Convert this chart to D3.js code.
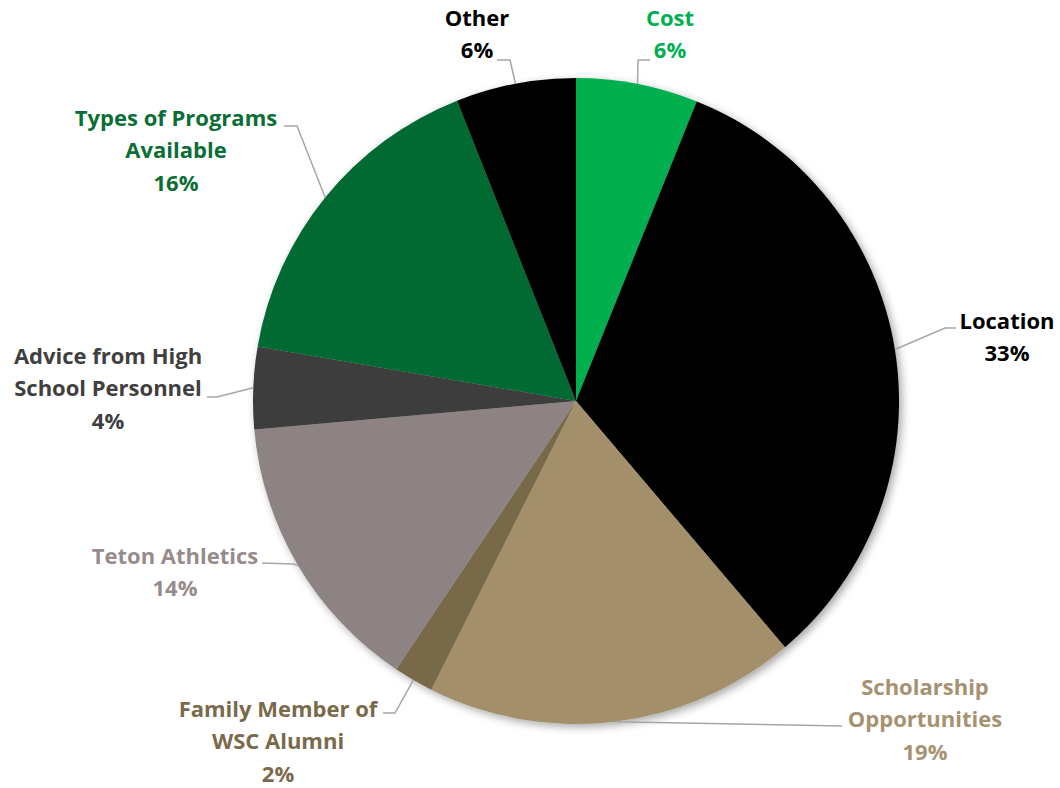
<!DOCTYPE html>
<html>
<head>
<meta charset="utf-8">
<script src="https://cdn.jsdelivr.net/npm/d3@7"></script>
<style>
  html, body { margin: 0; padding: 0; background: #ffffff; }
  svg { display: block; }
  text { font-family: "Open Sans", Lato, sans-serif; font-weight: 700; }
</style>
</head>
<body>
<svg id="chart" width="1060" height="788"></svg>
<script>
// ---- data ----
const categories = ["Cost", "Location", "Scholarship Opportunities", "Family Member of WSC Alumni",
                    "Teton Athletics", "Advice from High School Personnel", "Types of Programs Available", "Other"];
const values = [6.1, 32.7, 18.6, 2.0, 14.2, 4.1, 16.3, 6.0];
const percentLabels = ["6%", "33%", "19%", "2%", "14%", "4%", "16%", "6%"];
const labelLines = [
  ["Cost"],
  ["Location"],
  ["Scholarship", "Opportunities"],
  ["Family Member of", "WSC Alumni"],
  ["Teton Athletics"],
  ["Advice from High", "School Personnel"],
  ["Types of Programs", "Available"],
  ["Other"]
];

// ---- styles / layout ----
const sliceColors = ["#00B050", "#000000", "#A38F6B", "#786A49", "#8E8383", "#3D3C3C", "#006B31", "#000000"];
const textColors  = ["#00B050", "#000000", "#A69270", "#7A6A4A", "#978B8B", "#404040", "#0A6E35", "#000000"];
// label block centre x, first-line centre y, elbow point and leader end
const labelLayout = [
  {x: 670, y: 18,  elbow: [638, 60],  end: [650, 60]},
  {x: 1007, y: 321, elbow: [945, 328], end: [956, 328]},
  {x: 925, y: 687, elbow: [842, 726], end: [842, 726]},
  {x: 278, y: 709, elbow: [395, 713], end: [383, 713]},
  {x: 175, y: 556, elbow: [293, 564], end: [262, 563]},
  {x: 108, y: 356, elbow: [217, 397], end: [207, 397]},
  {x: 176, y: 118, elbow: [297, 126], end: [284, 126]},
  {x: 477, y: 18,  elbow: [510, 60],  end: [497, 60]}
];
const lineHeight = 32.5;

const cx = 576, cy = 401, R = 323;

const svg = d3.select("#chart");
const defs = svg.append("defs");
const f = defs.append("filter").attr("id", "shadow")
  .attr("x", "-10%").attr("y", "-10%").attr("width", "125%").attr("height", "125%");
f.append("feDropShadow").attr("dx", 3).attr("dy", 3).attr("stdDeviation", 4)
  .attr("flood-color", "#000").attr("flood-opacity", 0.35);

const data = categories.map((c, i) => ({name: c, value: values[i], i}));
const pie = d3.pie().value(d => d.value).sort(null);
const arcs = pie(data);
const arc = d3.arc().innerRadius(0).outerRadius(R);

const g = svg.append("g").attr("transform", `translate(${cx},${cy})`);
const slices = g.append("g").attr("filter", "url(#shadow)");
slices.selectAll("path").data(arcs).join("path")
  .attr("d", arc)
  .attr("fill", d => sliceColors[d.data.i]);

// leader lines
const lines = svg.append("g");
arcs.forEach(a => {
  const i = a.data.i;
  const mid = (a.startAngle + a.endAngle) / 2;
  const sx = cx + R * Math.sin(mid);
  const sy = cy - R * Math.cos(mid);
  const L = labelLayout[i];
  lines.append("path")
    .attr("d", d3.line()([[sx, sy], L.elbow, L.end]))
    .attr("fill", "none")
    .attr("stroke", "#A6A6A6")
    .attr("stroke-width", 1.5);
});

// labels
const labels = svg.append("g");
arcs.forEach(a => {
  const i = a.data.i;
  const L = labelLayout[i];
  const all = labelLines[i].concat([percentLabels[i]]);
  const t = labels.append("text")
    .attr("text-anchor", "middle")
    .attr("fill", textColors[i])
    .attr("font-size", 22);
  all.forEach((s, k) => {
    t.append("tspan").attr("x", L.x).attr("y", L.y + k * lineHeight)
      .attr("dy", "0.35em").text(s);
  });
});
</script>
</body>
</html>
